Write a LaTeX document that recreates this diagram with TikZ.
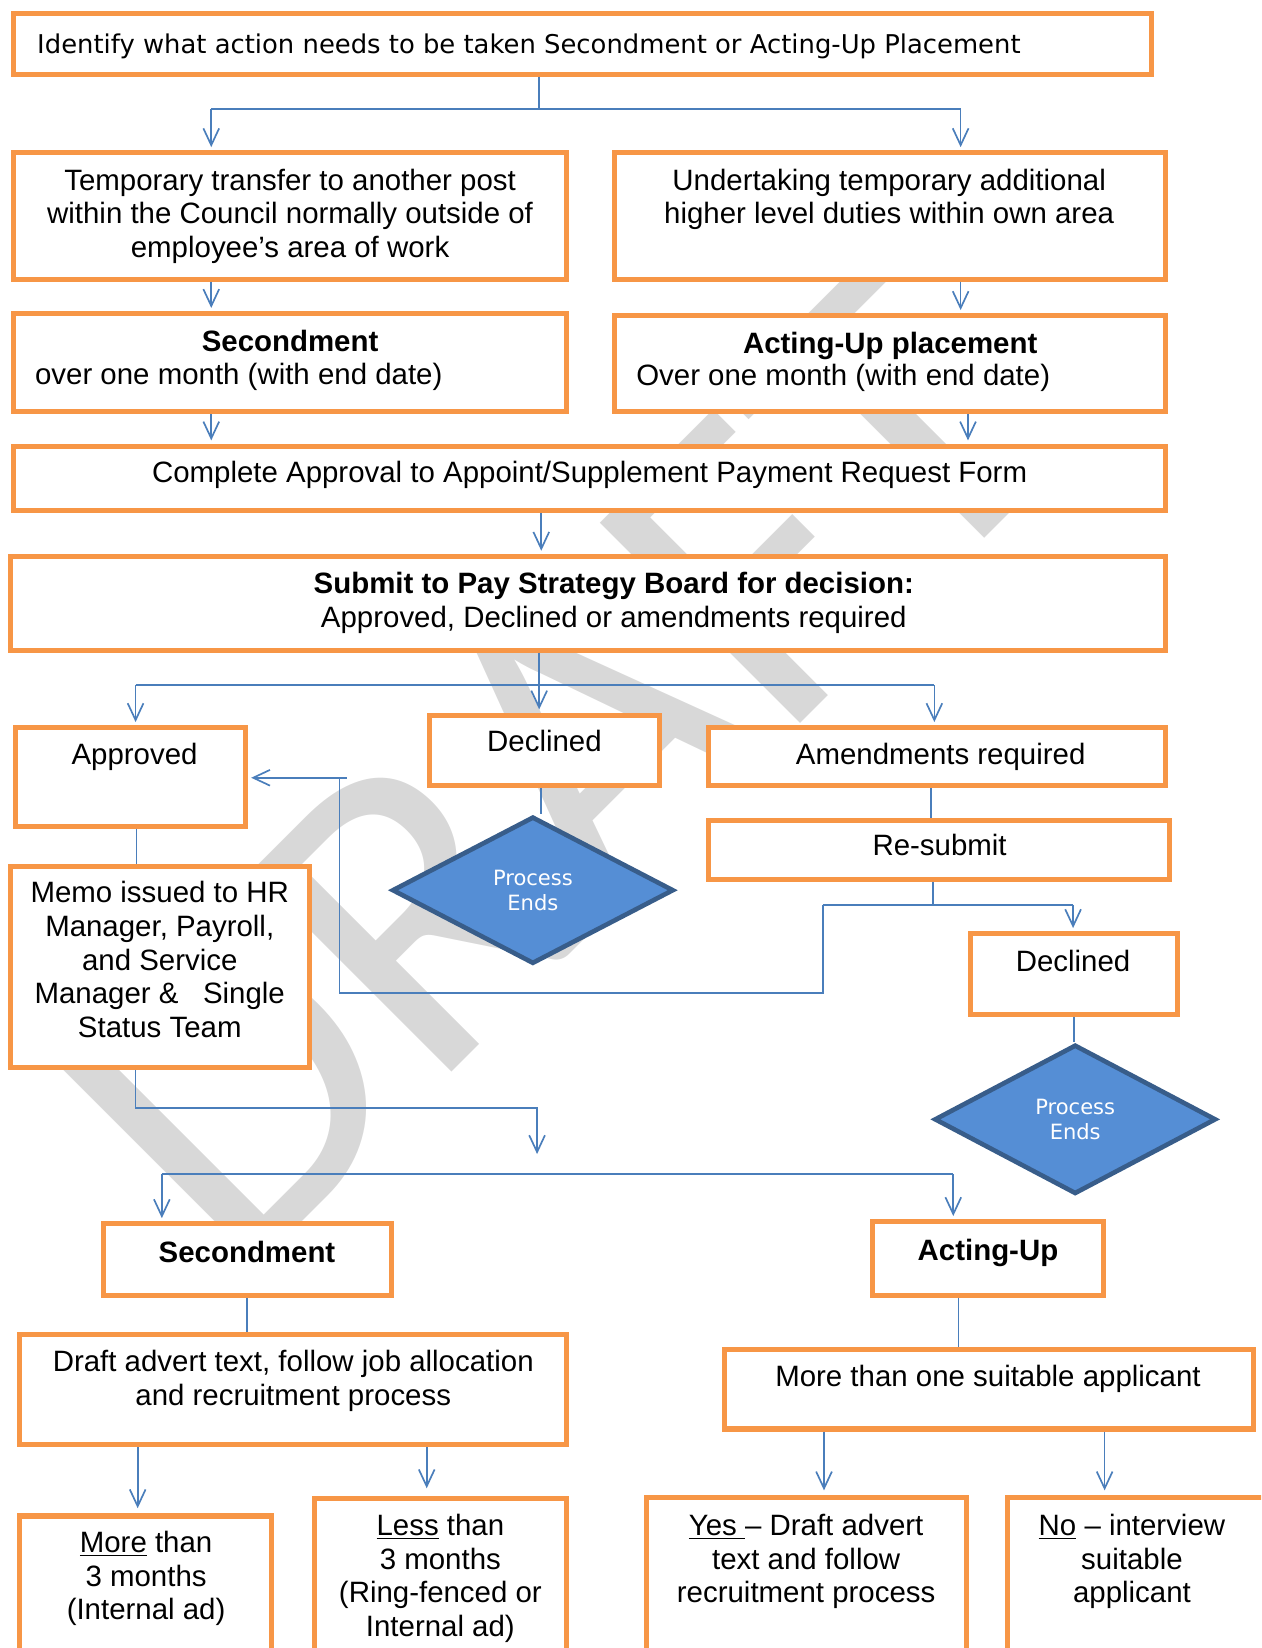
\documentclass[tikz,border=0pt]{standalone}
\usepackage{fontspec}
\setmainfont{Liberation Sans}
\newfontfamily\tahomafont{DejaVu Sans}
\newfontfamily\wmfont{Carlito}
\usetikzlibrary{arrows.meta,shapes.geometric,fit}
\definecolor{boxor}{HTML}{F79646}
\definecolor{lnblue}{HTML}{4A7EBB}
\definecolor{dfill}{HTML}{558ED5}
\definecolor{dline}{HTML}{385D8A}
\definecolor{wmark}{RGB}{216,216,216}
\newcommand{\flowbox}[5]{\node[box, fit={(#2+2.4,#3+2.4) (#4-2.4,#5-2.4)}] (#1) {};}
\begin{document}
\begin{tikzpicture}[x=0.5pt,y=-0.5pt,
  box/.style={draw=boxor, line width=2.4pt, fill=white, inner sep=0pt},
  conn/.style={draw=lnblue, line width=0.8pt},
  arr/.style={conn, -{Straight Barb[length=8pt,width=7.5pt]}, shorten >=1.5pt},
  txt/.style={font=\fontsize{14}{16}\selectfont, align=center, inner sep=0pt, anchor=base},
  btxt/.style={txt, font=\fontsize{14}{16}\selectfont\bfseries},
  pe/.style={diamond, draw=dline, line width=2.2pt, fill=dfill, inner sep=0pt, text=white,
    font=\tahomafont\fontsize{10}{12}\selectfont, align=center},
]
\useasboundingbox (0,0) rectangle (1200,1568);
\clip (0,0) rectangle (1200,1568);

% watermark
\node[rotate=45, text=wmark, inner sep=0pt, font=\wmfont\fontsize{210}{210}\selectfont] (wm) at (529,730) {DRAFT};

% boxes
\flowbox{top}{10}{10}{1098}{73}
\flowbox{t1}{10}{143}{541}{268}
\flowbox{t2}{582}{143}{1111}{268}
\flowbox{s1}{10}{296}{541}{394}
\flowbox{s2}{582}{298}{1111}{394}
\flowbox{form}{10}{422}{1111}{488}
\flowbox{submit}{8}{527}{1111}{621}
\flowbox{approved}{12}{690}{236}{789}
\flowbox{declined}{406}{678}{630}{750}
\flowbox{amend}{672}{690}{1111}{750}
\flowbox{resubmit}{672}{778}{1115}{839}
\flowbox{declined2}{921}{886}{1123}{968}
\flowbox{memo}{8}{822}{297}{1018}
\flowbox{sec}{96}{1162}{375}{1235}
\flowbox{act}{828}{1160}{1052}{1235}
\flowbox{draft}{16}{1267}{541}{1377}
\flowbox{more1}{687}{1282}{1195}{1362}
\flowbox{m3}{16}{1440}{261}{1600}
\flowbox{less}{297}{1423}{541}{1600}
\flowbox{yes}{613}{1422}{922}{1600}
\flowbox{no}{956}{1422}{1230}{1600}

% texts (anchor=base: multi-line nodes are placed by their last line's baseline)
\node[txt, anchor=base west, font=\tahomafont\fontsize{12.3}{14}\selectfont] (toptx) at (35,51) {Identify what action needs to be taken Secondment or Acting-Up Placement};
\node[txt] (t1tx) at (276,245) {Temporary transfer to another post\\within the Council normally outside of\\employee’s area of work};
\node[txt] (t2tx) at (846,213) {Undertaking temporary additional\\higher level duties within own area};
\node[btxt] (s1tx) at (276,334) {Secondment};
\node[txt, anchor=base west] (s1tx2) at (33,366) {over one month (with end date)};
\node[btxt] (s2tx) at (847,336) {Acting-Up placement};
\node[txt, anchor=base west] (s2tx2) at (605,367) {Over one month (with end date)};
\node[txt] (formtx) at (561,459) {Complete Approval to Appoint/Supplement Payment Request Form};
\node[btxt] (subtx) at (584,565) {Submit to Pay Strategy Board for decision:};
\node[txt] (subtx2) at (584,597) {Approved, Declined or amendments required};
\node[txt] (apptx) at (128,727) {Approved};
\node[txt] (dectx) at (518,715) {Declined};
\node[txt] (amtx) at (895,727) {Amendments required};
\node[txt] (restx) at (894,814) {Re-submit};
\node[txt] (dec2tx) at (1021,924) {Declined};
\node[txt] (memotx) at (152,987) {Memo issued to HR\\Manager, Payroll,\\and Service\\Manager \&\ \ \ Single\\Status Team};
\node[btxt] (sectx) at (235,1201) {Secondment};
\node[btxt] (acttx) at (940,1199) {Acting-Up};
\node[txt] (drafttx) at (279,1337) {Draft advert text, follow job allocation\\and recruitment process};
\node[txt] (more1tx) at (940,1319) {More than one suitable applicant};
\node[txt] (m3tx) at (139,1541) {\underline{More} than\\3 months\\(Internal ad)};
\node[txt] (lesstx) at (419,1557) {\underline{Less} than\\3 months\\(Ring-fenced or\\Internal ad)};
\node[txt] (yestx) at (767,1525) {\underline{Yes\ }– Draft advert\\text and follow\\recruitment process};
\node[txt] (notx) at (1077,1525) {\underline{No} – interview\\suitable\\applicant};

% coordinates
\coordinate (j0) at (513,104);
\coordinate (jL) at (201,104);
\coordinate (jR) at (914,104);
\coordinate (x921) at (921,0);
\coordinate (x515) at (515,0);
\coordinate (j1) at (513,652);
\coordinate (jA) at (129,652);
\coordinate (jD) at (889,652);
\coordinate (x886) at (886,0);
\coordinate (j2) at (888,861);
\coordinate (jE) at (783,861);
\coordinate (jF) at (1021,861);
\coordinate (lb) at (323,945);
\coordinate (lt) at (323,740);
\coordinate (lt2) at (330,740);
\coordinate (x130) at (130,0);
\coordinate (j3) at (129,1054);
\coordinate (j4) at (511,1054);
\coordinate (j5) at (511,1101);
\coordinate (jG) at (154,1117);
\coordinate (jH) at (907,1117);
\coordinate (x235) at (235,0);
\coordinate (x912) at (912,0);
\coordinate (x131) at (131,0);
\coordinate (x406) at (406,0);
\coordinate (x784) at (784,0);
\coordinate (x1051) at (1051,0);

% diamonds
\node[pe, minimum width=134pt, minimum height=70pt] (pe1) at (507,847) {Process\\Ends};
\node[pe, minimum width=134pt, minimum height=71pt] (pe2) at (1023,1065) {Process\\Ends};

% connectors
\draw[conn] (top.south -| j0) -- (j0);
\draw[conn] (jL) -- (jR);
\draw[arr] (jL) -- (jL |- t1.north);
\draw[arr] (jR) -- (jR |- t2.north);
\draw[arr] (t1.south -| jL) -- (s1.north -| jL);
\draw[arr] (t2.south -| jR) -- (s2.north -| jR);
\draw[arr] (s1.south -| jL) -- (form.north -| jL);
\draw[arr] (s2.south -| x921) -- (form.north -| x921);
\draw[arr] (form.south -| x515) -- (submit.north -| x515);
\draw[conn] (submit.south -| j1) -- (j1);
\draw[conn] (jA) -- (jD);
\draw[arr] (jA) -- (jA |- approved.north);
\draw[arr] (j1) -- (j1 |- declined.north);
\draw[arr] (jD) -- (jD |- amend.north);
\draw[conn] (amend.south -| x886) -- (resubmit.north -| x886);
\draw[conn] (resubmit.south -| j2) -- (j2);
\draw[conn] (jE) -- (jF);
\draw[arr] (jF) -- (jF |- declined2.north);
\draw[conn] (jE) |- (lb) -- (lt) -- (lt2);
\draw[arr] (lt2) -- (lt2 -| approved.east);
\draw[conn] (declined.south -| x515) -- (x515 |- pe1.north);
\draw[conn] (declined2.south) -- (declined2.south |- pe2.north);
\draw[conn] (approved.south -| x130) -- (memo.north -| x130);
\draw[arr] (memo.south -| j3) -- (j3) -- (j4) -- (j5);
\draw[conn] (jG) -- (jH);
\draw[arr] (jG) -- (jG |- sec.north);
\draw[arr] (jH) -- (jH |- act.north);
\draw[conn] (sec.south -| x235) -- (draft.north -| x235);
\draw[conn] (act.south -| x912) -- (more1.north -| x912);
\draw[arr, shorten >=2.5pt] (draft.south -| x131) -- (m3.north -| x131);
\draw[arr, shorten >=3.5pt] (draft.south -| x406) -- (less.north -| x406);
\draw[arr, shorten >=2pt] (more1.south -| x784) -- (yes.north -| x784);
\draw[arr, shorten >=2pt] (more1.south -| x1051) -- (no.north -| x1051);
\end{tikzpicture}
\end{document}
